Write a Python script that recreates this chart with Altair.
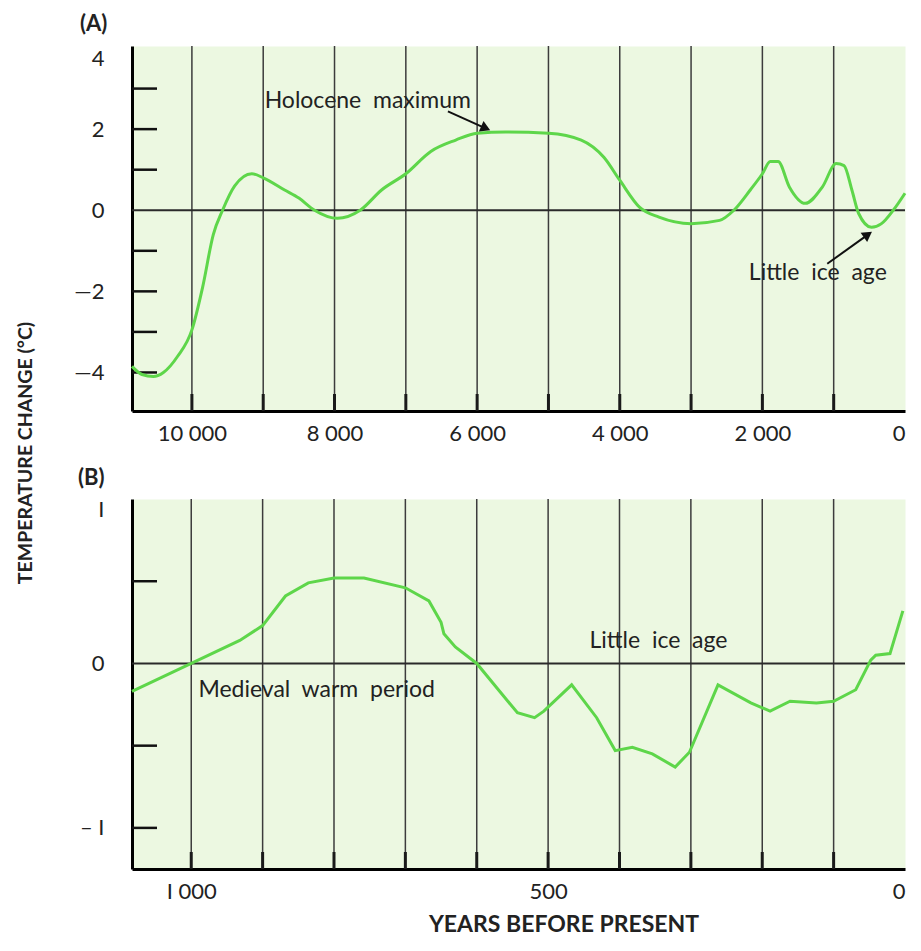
import altair as alt
import pandas as pd

# ---------------- data ----------------
a_years = [10840, 10700, 10540, 10400, 10200, 10000, 9850, 9700, 9570, 9400, 9160, 9000,
           8700, 8500, 8280, 7960, 7640, 7340, 7000, 6650, 6300, 6000, 5600, 5000, 4540,
           4220, 4000, 3720, 3450, 3000, 2600, 2400, 2170, 2000, 1890, 1780, 1620, 1400,
           1160, 965, 855, 745, 650, 470, 330, 165, 0]
a_temp = [-3.85, -4.05, -4.1, -4.0, -3.6, -2.95, -1.9, -0.6, 0.0, 0.6, 0.9, 0.8,
          0.5, 0.3, 0.0, -0.2, 0.0, 0.5, 0.9, 1.45, 1.73, 1.9, 1.93, 1.9, 1.73,
          1.3, 0.74, 0.07, -0.17, -0.33, -0.25, 0.0, 0.5, 0.9, 1.2, 1.2, 0.57, 0.17,
          0.57, 1.15, 1.1, 0.5, -0.08, -0.42, -0.33, 0.0, 0.42]

b_years = [1083, 1000, 932, 900, 868, 836, 800, 758, 700, 667, 650, 646, 630, 600,
           543, 519, 506, 467, 432, 406, 382, 354, 322, 302, 262, 216, 189, 161,
           124, 100, 69, 48, 41, 21, 3]
b_temp = [-0.17, 0.0, 0.14, 0.23, 0.41, 0.49, 0.52, 0.52, 0.46, 0.38, 0.25, 0.18, 0.10, 0.0,
          -0.30, -0.33, -0.29, -0.13, -0.33, -0.53, -0.51, -0.55, -0.63, -0.54, -0.13, -0.24,
          -0.29, -0.23, -0.24, -0.23, -0.16, 0.02, 0.05, 0.06, 0.32]

a_grid = [1000, 2000, 3000, 4000, 5000, 6000, 7000, 8000, 9000, 10000]
b_grid = [100, 200, 300, 400, 500, 600, 700, 800, 900, 1000]
a_minor_y = [3, 2, 1, -1, -2, -3, -4]
b_minor_y = [0.5, -0.5, -1]

a_x_vals = [10000, 8000, 6000, 4000, 2000, 0]
a_x_labels = ["10 000", "8 000", "6 000", "4 000", "2 000", "0"]
a_y_vals = [4, 2, 0, -2, -4]
a_y_labels = ["4", "2", "0", "\u20142", "\u20144"]
b_x_vals = [1000, 500, 0]
b_x_labels = ["I 000", "500", "0"]
b_y_vals = [1, 0, -1]
b_y_labels = ["I", "0", "\u2013 I"]

a_domain_x = [10840, 0]
a_domain_y = [-4.95, 4.05]
b_domain_x = [1083, 0]
b_domain_y = [-1.25, 1.0]

NB = "\u00a0"
a_notes = ["Holocene" + NB + " maximum", "Little" + NB + " ice" + NB + " age"]
a_notes_x = [8980, 2190]
a_notes_y = [2.69, -1.55]
a_arrows_x = [6410, 1090]
a_arrows_y = [2.44, -1.32]
a_arrows_x2 = [5880, 520]
a_arrows_y2 = [2.02, -0.6]
a_arrow_angle = [24, 325]

b_notes = ["Little" + NB + " ice" + NB + " age", "Medieval" + NB + " warm" + NB + " period"]
b_notes_x = [442, 990]
b_notes_y = [0.134, -0.164]

# ---------------- style ----------------
W = 773
HA = 365
HB = 370
FONT = "Lato"
LINE_GREEN = "#5ed64a"
BG = "#ecf8e1"
GRID = "#3c3c3c"


def label_expr(vals, labels):
    expr = "''"
    for v, l in reversed(list(zip(vals, labels))):
        expr = f"datum.value == {v} ? '{l}' : ({expr})"
    return expr


def panel(years, temps, dom_x, dom_y, H, grid, minor_y, xv, xl, yv, yl,
          notes, nx, ny, interp):
    xs = alt.Scale(domain=dom_x, nice=False, zero=False)
    ys = alt.Scale(domain=dom_y, nice=False, zero=False)
    x_axis = alt.Axis(values=xv, labelExpr=label_expr(xv, xl), title=None, grid=False,
                      ticks=False, domainColor="black", domainWidth=3,
                      labelFont=FONT, labelFontSize=22, labelColor="#222",
                      labelPadding=12, labelFlush=True)
    y_axis = alt.Axis(values=yv, labelExpr=label_expr(yv, yl), title=None, grid=False,
                      ticks=False, domainColor="black", domainWidth=3,
                      labelFont=FONT, labelFontSize=22, labelColor="#222",
                      labelPadding=28, labelFlush=4)

    X = lambda f: alt.X(f, scale=xs, axis=x_axis)
    Y = lambda f: alt.Y(f, scale=ys, axis=y_axis)

    gdf = pd.DataFrame({"x": grid})
    grid_l = alt.Chart(gdf).mark_rule(color=GRID, strokeWidth=1.5).encode(
        x=X("x:Q"), y=alt.value(0), y2=alt.value(H))
    bt = alt.Chart(gdf).mark_rule(color="#1a1a1a", strokeWidth=3).encode(
        x=X("x:Q"), y=alt.value(H - 17), y2=alt.value(H))
    zero = alt.Chart(pd.DataFrame({"y": [0]})).mark_rule(color="#2a2a2a", strokeWidth=2).encode(
        y=Y("y:Q"), x=alt.value(0), x2=alt.value(W))
    mt = alt.Chart(pd.DataFrame({"y": minor_y})).mark_rule(color="#111", strokeWidth=2.5).encode(
        y=Y("y:Q"), x=alt.value(0), x2=alt.value(25))
    curve = alt.Chart(pd.DataFrame({"x": years, "y": temps})).mark_line(
        color=LINE_GREEN, strokeWidth=3, interpolate=interp).encode(
        x=X("x:Q"), y=Y("y:Q"))
    txt = alt.Chart(pd.DataFrame({"x": nx, "y": ny, "t": notes})).mark_text(
        align="left", baseline="middle", font=FONT, fontSize=23, color="#222").encode(
        x=X("x:Q"), y=Y("y:Q"), text="t:N")
    return [grid_l, bt, zero, mt, curve, txt], X, Y


layers_a, XA, YA = panel(a_years, a_temp, a_domain_x, a_domain_y, HA, a_grid, a_minor_y,
                         a_x_vals, a_x_labels, a_y_vals, a_y_labels,
                         a_notes, a_notes_x, a_notes_y, "monotone")
arr_df = pd.DataFrame({"x": a_arrows_x, "y": a_arrows_y, "x2": a_arrows_x2,
                       "y2": a_arrows_y2, "ang": a_arrow_angle})
arrow_lines = alt.Chart(arr_df).mark_rule(color="#111", strokeWidth=2).encode(
    x=XA("x:Q"), x2="x2:Q", y=YA("y:Q"), y2="y2:Q")
arrow_heads = alt.Chart(arr_df).mark_point(shape="triangle-right", filled=True, size=130,
                                           color="#111", opacity=1).encode(
    x=XA("x2:Q"), y=YA("y2:Q"), angle=alt.Angle("ang:Q", scale=None))
label_a = alt.Chart(pd.DataFrame({"t": ["(A)"]})).mark_text(
    align="left", baseline="middle", font=FONT, fontSize=22, fontWeight="bold", color="#222").encode(
    x=alt.value(-52), y=alt.value(-22), text="t:N")
ytitle = alt.Chart(pd.DataFrame({"t": ["TEMPERATURE CHANGE (\u00b0C)"]})).mark_text(
    align="center", baseline="middle", angle=270, font=FONT, fontSize=19.5, fontWeight="bold",
    color="#222").encode(x=alt.value(-106), y=alt.value(407), text="t:N")
anchor = alt.Chart(pd.DataFrame({"t": [0]})).mark_rule(opacity=0, strokeWidth=0).encode(
    x=alt.value(-123), x2=alt.value(-123), y=alt.value(-37), y2=alt.value(-37))

chart_a = alt.layer(*layers_a, arrow_lines, arrow_heads, label_a, ytitle, anchor).properties(
    width=W, height=HA)

layers_b, XB, YB = panel(b_years, b_temp, b_domain_x, b_domain_y, HB, b_grid, b_minor_y,
                         b_x_vals, b_x_labels, b_y_vals, b_y_labels,
                         b_notes, b_notes_x, b_notes_y, "linear")
label_b = alt.Chart(pd.DataFrame({"t": ["(B)"]})).mark_text(
    align="left", baseline="middle", font=FONT, fontSize=22, fontWeight="bold", color="#222").encode(
    x=alt.value(-54), y=alt.value(-21), text="t:N")
xtitle = alt.Chart(pd.DataFrame({"t": ["YEARS BEFORE PRESENT"]})).mark_text(
    align="center", baseline="middle", font=FONT, fontSize=23, fontWeight="bold",
    color="#222").encode(x=alt.value(432), y=alt.value(426), text="t:N")

chart_b = alt.layer(*layers_b, label_b, xtitle).properties(width=W, height=HB)

chart = alt.vconcat(chart_a, chart_b, spacing=88, bounds="flush").properties(
    padding=0, background="white"
).configure_view(fill=BG, stroke="transparent")

chart.save("out.html", embed_options={"renderer": "svg", "actions": False})
